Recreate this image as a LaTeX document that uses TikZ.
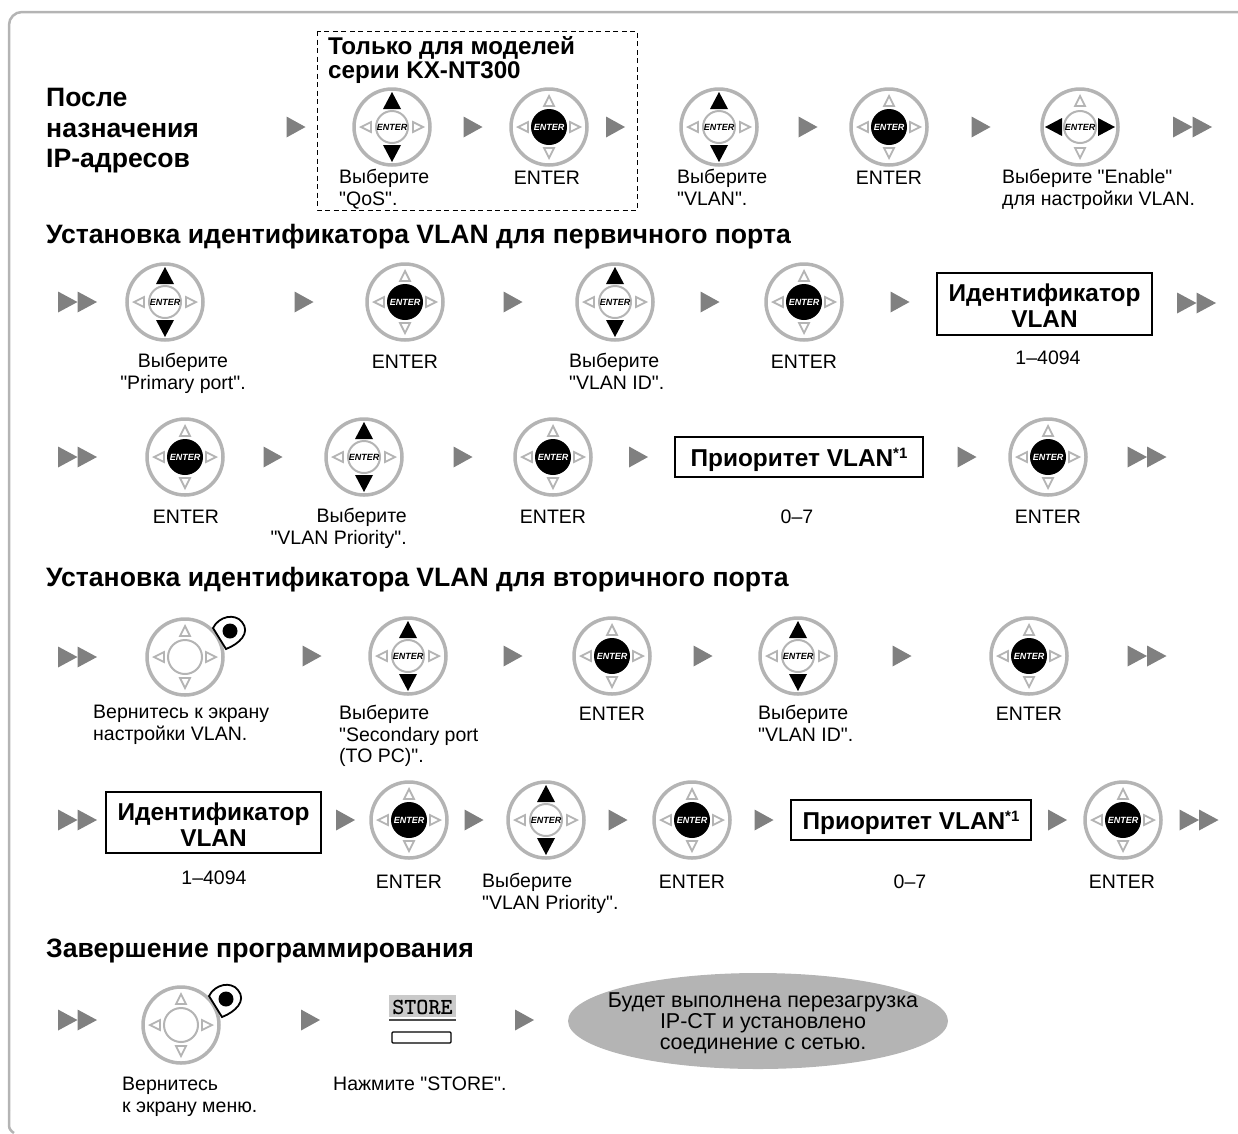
\documentclass[tikz,border=0pt]{standalone}
\usepackage{fontspec}
\newfontfamily\arial{Liberation Sans}
\usetikzlibrary{shapes.geometric}
\definecolor{ringg}{HTML}{B4B4B4}
\definecolor{arrg}{HTML}{808080}
\newcommand{\bodyf}{\arial\fontsize{19.5}{21.5}\selectfont}
\newcommand{\headf}{\arial\fontsize{26.6}{30.5}\selectfont\bfseries}
\newcommand{\titlef}{\arial\fontsize{26.6}{26}\selectfont\bfseries}
\newcommand{\boxf}{\arial\fontsize{24.4}{26}\selectfont\bfseries}
\newcommand{\keyat}[4]{\begin{scope}[shift={(#2,#3)}]\pic (#1) {#4};\end{scope}}
\newcommand{\ptr}[3]{\begin{scope}[shift={(#1,#2)}]\pic {#3};\end{scope}}
\newcommand{\prio}{\rule{0pt}{23.5pt}Приоритет VLAN\raisebox{0.3em}{\fontsize{15}{15}\selectfont*1}}
\newcommand{\idvlan}{\rule{0pt}{21pt}Идентификатор\\VLAN}
\tikzset{
  x=1pt,y=-1pt,
  ringline/.style={draw=ringg,line width=3.5pt},
  innerline/.style={draw=ringg,line width=2pt},
  smalltri/.style={draw=ringg,line width=1.8pt,fill=white,line join=miter},
  bigtri/.style={fill=black},
  flowtri/.style={fill=arrg},
  lbl/.style={inner sep=0pt,font=\bodyf,anchor=north west,align=left},
  clbl/.style={inner sep=0pt,font=\bodyf,anchor=north,align=center},
  rlbl/.style={inner sep=0pt,font=\bodyf,anchor=north east,align=right},
  head/.style={inner sep=0pt,font=\titlef,anchor=base west,align=left},
  vbox/.style={draw=black,line width=1.8pt,inner sep=0pt,font=\boxf,align=center},
  enterwhite/.style={inner sep=0pt,text=white,font=\arial\fontsize{9}{9}\selectfont\bfseries\itshape},
  enterblack/.style={inner sep=0pt,text=black,font=\arial\fontsize{9}{9}\selectfont\bfseries\itshape},
  pics/navring/.code={\draw[ringline] (0,0) circle (38);},
  pics/navrt/.code={\draw[smalltri] (21,-5) -- (31,0) -- (21,5) -- cycle;},
  pics/navlt/.code={\draw[smalltri] (-21,-5) -- (-31,0) -- (-21,5) -- cycle;},
  pics/navup/.code={\draw[smalltri] (-5,-21) -- (0,-31) -- (5,-21) -- cycle;},
  pics/navdn/.code={\draw[smalltri] (-5,21) -- (0,31) -- (5,21) -- cycle;},
  pics/navud/.code={
    \pic {navring}; \pic {navrt}; \pic {navlt};
    \draw[innerline] (0,0) circle (16);
    \node[enterblack] (-t) at (0,0) {ENTER};
    \fill[bigtri] (-9,-18) -- (0,-35) -- (9,-18) -- cycle;
    \fill[bigtri] (-9,18) -- (0,35) -- (9,18) -- cycle;
  },
  pics/navlr/.code={
    \pic {navring}; \pic {navup}; \pic {navdn};
    \draw[innerline] (0,0) circle (16);
    \node[enterblack] (-t) at (0,0) {ENTER};
    \fill[bigtri] (-18,-9) -- (-35,0) -- (-18,9) -- cycle;
    \fill[bigtri] (18,-9) -- (35,0) -- (18,9) -- cycle;
  },
  pics/navok/.code={
    \pic {navring}; \pic {navrt}; \pic {navlt}; \pic {navup}; \pic {navdn};
    \fill[black] (0,0) circle (18);
    \node[enterwhite] (-t) at (0,0) {ENTER};
  },
  pics/navback/.code={
    \pic {navring}; \pic {navrt}; \pic {navlt}; \pic {navup}; \pic {navdn};
    \draw[innerline] (0,0) circle (17);
    \draw[black,line width=1.8pt,fill=white,line join=miter]
      (28,-29) .. controls (34,-41) and (50,-44) .. (57,-35)
      .. controls (66,-24) and (54,-13) .. (41,-8) -- cycle;
    \fill[black] (45,-26) circle (7.5);
  },
  pics/onetri/.code={\fill[flowtri] (-9.5,-10.5) -- (9.5,0) -- (-9.5,10.5) -- cycle;},
  pics/twotri/.code={
    \fill[flowtri] (-19.5,-10.5) -- (0,0) -- (-19.5,10.5) -- cycle;
    \fill[flowtri] (0,-10.5) -- (19.5,0) -- (0,10.5) -- cycle;
  },
}
\begin{document}
\begin{tikzpicture}
\useasboundingbox (0,0) rectangle (1238,1133);
% frame
\draw[draw=ringg,line width=2.5pt,rounded corners=13pt] (1245,12) -- (9,12) -- (9,1110);
\draw[draw=ringg,line width=2.5pt] (9,1110) -- (9,1125) .. controls (9,1129) and (11,1131) .. (14,1133);
% dashed box
\draw[black,line width=1pt,dash pattern=on 5pt off 3.5pt] (317,31) rectangle (637,210);

% headings
\node[inner sep=0pt,font=\headf,anchor=north west,align=left] (h0) at (46,88) {После\\назначения\\IP-адресов};
\node[inner sep=0pt,font=\arial\fontsize{24.2}{24}\selectfont\bfseries,anchor=north west,align=left] (h1) at (328,36) {Только для моделей\\серии KX-NT300};
\node[head] (h2) at (46,243) {Установка идентификатора VLAN для первичного порта};
\node[head] (h3) at (46,586) {Установка идентификатора VLAN для вторичного порта};
\node[head] (h4) at (46,957) {Завершение программирования};

% row 1
\ptr{296}{127}{onetri}
\keyat{k11}{392}{127}{navud}
\ptr{473}{127}{onetri}
\keyat{k12}{549}{127}{navok}
\ptr{615.5}{127}{onetri}
\keyat{k13}{719}{127}{navud}
\ptr{808}{127}{onetri}
\keyat{k14}{889}{127}{navok}
\ptr{981}{127}{onetri}
\keyat{k15}{1080}{127}{navlr}
\ptr{1192.5}{127}{twotri}
\node[lbl] (t11) at (339,169) {Выберите\\"QoS".};
\node[clbl] (t12) at (547,171) {ENTER};
\node[lbl] (t13) at (677,169) {Выберите\\"VLAN".};
\node[clbl] (t14) at (889,171) {ENTER};
\node[lbl] (t15) at (1002,169) {Выберите "Enable"\\для настройки VLAN.};

% row 2
\ptr{77.5}{302}{twotri}
\keyat{k21}{165}{302}{navud}
\ptr{304}{302}{onetri}
\keyat{k22}{405}{302}{navok}
\ptr{513}{302}{onetri}
\keyat{k23}{615}{302}{navud}
\ptr{710}{302}{onetri}
\keyat{k24}{804}{302}{navok}
\ptr{900}{302}{onetri}
\node[vbox,minimum width=215pt,minimum height=62pt] (b21) at (1044.5,304) {\idvlan};
\ptr{1196.5}{303}{twotri}
\node[clbl] (t21) at (183,353) {Выберите\\"Primary port".};
\node[clbl] (t22) at (405,355) {ENTER};
\node[lbl] (t23) at (569,353) {Выберите\\"VLAN ID".};
\node[clbl] (t24) at (804,355) {ENTER};
\node[clbl] (t25) at (1048,351) {1–4094};

% row 3
\ptr{77.5}{457}{twotri}
\keyat{k31}{185}{457}{navok}
\ptr{273}{457}{onetri}
\keyat{k32}{364}{457}{navud}
\ptr{463}{457}{onetri}
\keyat{k33}{553}{457}{navok}
\ptr{638.5}{457}{onetri}
\node[vbox,minimum width=248pt,minimum height=40pt] (b31) at (799,457) {\prio};
\ptr{967}{457}{onetri}
\keyat{k34}{1048}{457}{navok}
\ptr{1147}{457}{twotri}
\node[clbl] (t31) at (186,510) {ENTER};
\node[rlbl] (t32) at (407,508) {Выберите\\"VLAN Priority".};
\node[clbl] (t33) at (553,510) {ENTER};
\node[clbl] (t34) at (797,510) {0–7};
\node[clbl] (t35) at (1048,510) {ENTER};

% row 4
\ptr{77.5}{657}{twotri}
\keyat{k41}{185}{657}{navback}
\ptr{312}{656}{onetri}
\keyat{k42}{408}{656}{navud}
\ptr{513}{656}{onetri}
\keyat{k43}{612}{656}{navok}
\ptr{703}{656}{onetri}
\keyat{k44}{798}{656}{navud}
\ptr{902}{656}{onetri}
\keyat{k45}{1029}{656}{navok}
\ptr{1147}{656}{twotri}
\node[lbl] (t41) at (93,705) {Вернитесь к экрану\\настройки VLAN.};
\node[lbl] (t42) at (339,705) {Выберите\\"Secondary port\\(TO PC)".};
\node[clbl] (t43) at (612,707) {ENTER};
\node[lbl] (t44) at (758,705) {Выберите\\"VLAN ID".};
\node[clbl] (t45) at (1029,707) {ENTER};

% row 5
\ptr{77.5}{820}{twotri}
\node[vbox,minimum width=215pt,minimum height=61pt] (b51) at (213.5,822.5) {\idvlan};
\ptr{345.5}{820}{onetri}
\keyat{k51}{409}{820}{navok}
\ptr{474}{820}{onetri}
\keyat{k52}{546}{820}{navud}
\ptr{618}{820}{onetri}
\keyat{k53}{692}{820}{navok}
\ptr{764}{820}{onetri}
\node[vbox,minimum width=240pt,minimum height=40pt] (b52) at (911,820) {\prio};
\ptr{1057.5}{820}{onetri}
\keyat{k54}{1123}{820}{navok}
\ptr{1199}{820}{twotri}
\node[clbl] (t51) at (214,871) {1–4094};
\node[clbl] (t52) at (409,875) {ENTER};
\node[lbl] (t53) at (482,873) {Выберите\\"VLAN Priority".};
\node[clbl] (t54) at (692,875) {ENTER};
\node[clbl] (t55) at (910,875) {0–7};
\node[clbl] (t56) at (1122,875) {ENTER};

% row 6
\ptr{77.5}{1020}{twotri}
\keyat{k61}{181}{1025}{navback}
\ptr{310.5}{1020}{onetri}
\fill[ringg!70!white] (389,995) rectangle (456,1017);
\draw[arrg!60!black,line width=1.2pt] (389,1020) -- (456,1020);
\node[inner sep=0pt,font=\ttfamily\bfseries\fontsize{23}{23}\selectfont] (s1) at (422.5,1007) {STORE};
\draw[black,line width=1.2pt,rounded corners=1pt] (392,1032) rectangle (451,1043);
\ptr{524.5}{1020}{onetri}
\node[ellipse,fill=ringg,minimum width=380pt,minimum height=96pt,inner sep=0pt] (e1) at (758,1021) {};
\node[inner sep=0pt,font=\arial\fontsize{21.5}{21}\selectfont,align=center] (e1t) at (763,1023) {Будет выполнена перезагрузка\\IP-CT и установлено\\соединение с сетью.};
\node[lbl] (t61) at (122,1077) {Вернитесь\\к экрану меню.};
\node[lbl] (t62) at (333,1077) {Нажмите "STORE".};
\end{tikzpicture}
\end{document}
